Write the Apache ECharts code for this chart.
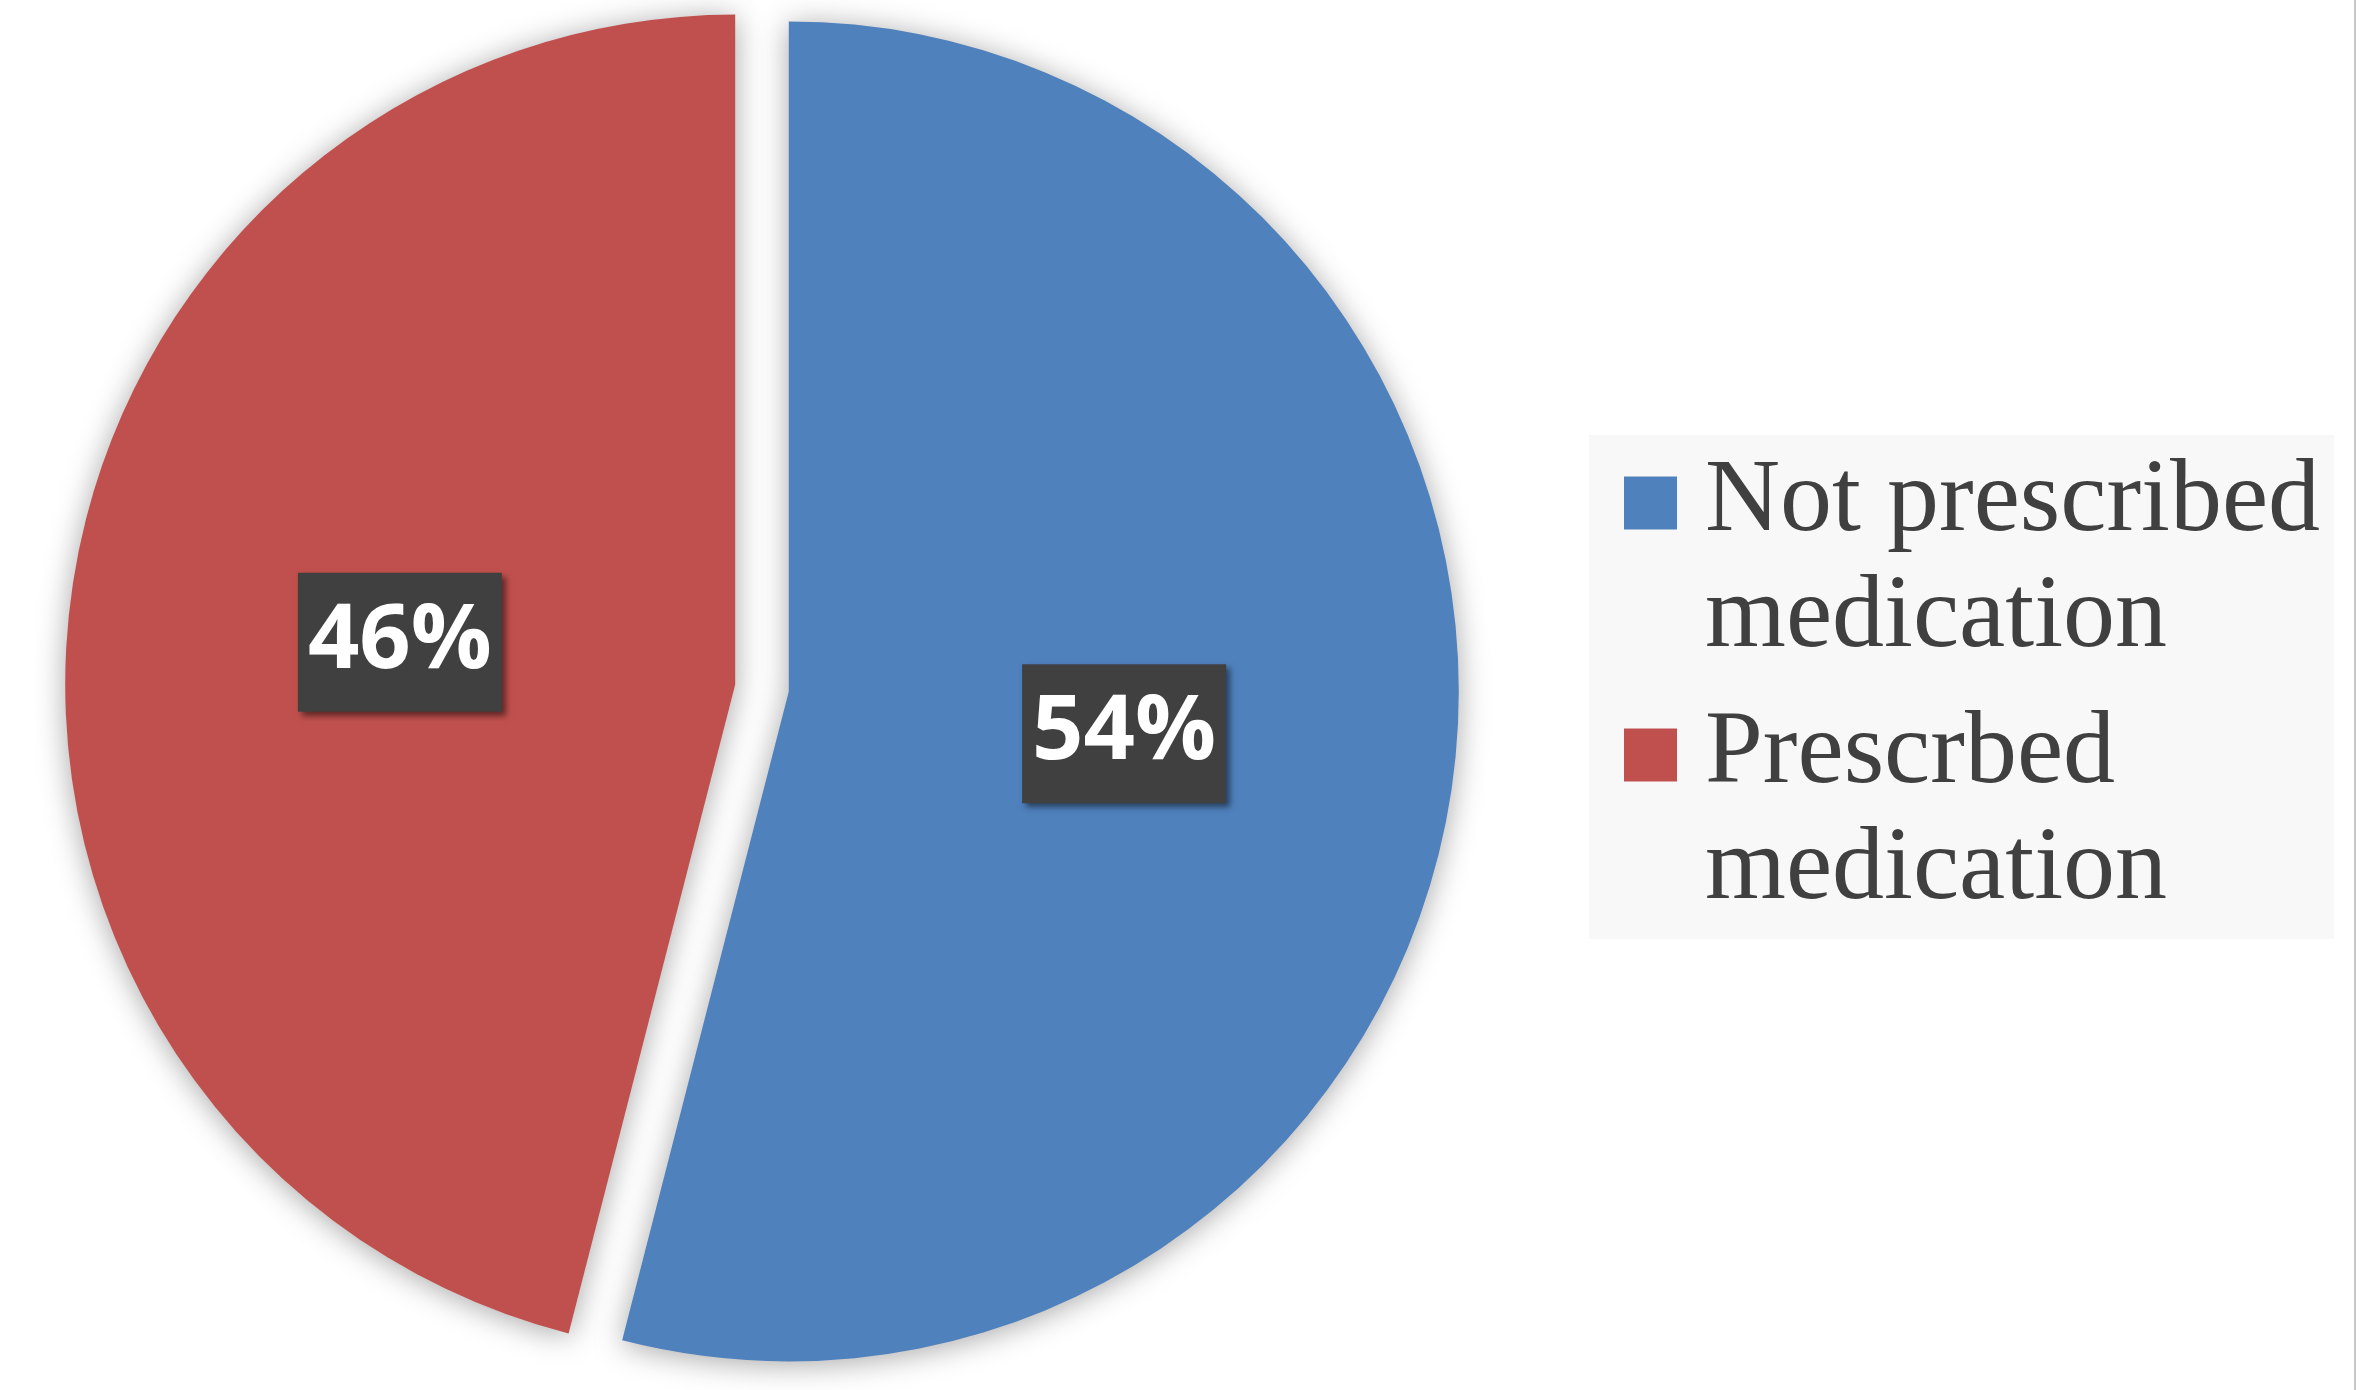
<!DOCTYPE html>
<html>
<head>
<meta charset="utf-8">
<script src="https://cdn.jsdelivr.net/npm/echarts@6/dist/echarts.min.js"></script>
<style>
html,body{margin:0;padding:0;background:#fff;}
#chart{width:2366px;height:1390px;}
</style>
</head>
<body>
<div id="chart"></div>
<script>
// Data
var categories = ['Not prescribed medication', 'Prescrbed medication'];
var values = [54, 46];
var colors = ['#4F81BD', '#C0504D'];

var chart = echarts.init(document.getElementById('chart'), null, {renderer: 'canvas'});

var pieData = categories.map(function (name, i) {
  return { name: name, value: values[i], selected: true, itemStyle: { color: colors[i] } };
});

// legend icon: square aligned with first text line, extra space to the right
var iconPath = 'path://M0,0h0.01M0,31.5h53v53h-53ZM76,232h-0.01';

chart.setOption({
  animation: false,
  backgroundColor: '#ffffff',
  legend: {
    orient: 'vertical',
    left: 1589,
    top: 435,
    padding: [10, 14, 10, 35],
    backgroundColor: '#f8f8f8',
    selectedMode: false,
    icon: iconPath,
    itemWidth: 76,
    itemHeight: 232,
    itemGap: 20,
    data: categories,
    formatter: function (name) { return name.replace(' medication', '\nmedication'); },
    textStyle: {
      fontFamily: '"Liberation Serif", serif',
      fontSize: 104,
      lineHeight: 116,
      color: '#404040'
    }
  },
  graphic: [{
    type: 'rect',
    shape: { x: 2354, y: 0, width: 2, height: 1390 },
    style: { fill: '#c8c8c8' },
    silent: true
  }],
  series: [{
    type: 'pie',
    center: [762, 688],
    radius: 670,
    startAngle: 90,
    clockwise: true,
    selectedMode: 'multiple',
    selectedOffset: 27,
    avoidLabelOverlap: false,
    itemStyle: {
      borderWidth: 0,
      shadowBlur: 30,
      shadowColor: 'rgba(0,0,0,0.35)',
      shadowOffsetX: 0,
      shadowOffsetY: 3
    },
    emphasis: { disabled: true },
    label: {
      show: true,
      position: 'inside',
      formatter: function (p) { return p.value + '%'; },
      color: '#ffffff',
      fontFamily: '"Open Sans", sans-serif',
      fontWeight: 'bold',
      fontSize: 90,
      lineHeight: 100,
      backgroundColor: '#404040',
      padding: [19, 10, 20, 10],
      shadowBlur: 6,
      shadowColor: 'rgba(0,0,0,0.5)',
      shadowOffsetX: 4,
      shadowOffsetY: 4
    },
    labelLine: { show: false },
    data: pieData
  }]
});
</script>
</body>
</html>
